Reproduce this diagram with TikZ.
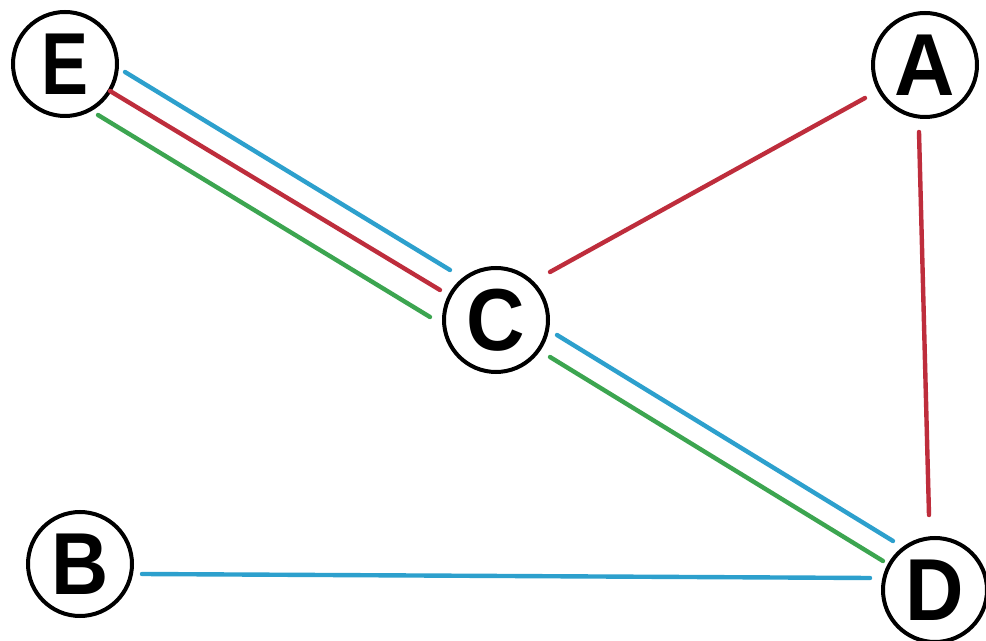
\documentclass[tikz,border=0pt]{standalone}
\usepackage{fontspec}
\usepackage{graphicx}
\setmainfont{Liberation Sans}
\definecolor{eblue}{RGB}{45,160,205}
\definecolor{ered}{RGB}{190,45,60}
\definecolor{egreen}{RGB}{60,165,80}
\begin{document}
\begin{tikzpicture}[x=0.75pt,y=-0.75pt,
  vertex/.style={circle,draw=black,line width=3pt,minimum size=78pt,inner sep=0pt,fill=white,
    font=\fontsize{66}{66}\selectfont\bfseries},
  edge/.style={line width=3.3pt,line cap=round}]
\useasboundingbox (0,0) rectangle (986,641);
\fill[white] (0,0) rectangle (986,641);
\node[vertex] (E) at (65,64) {\scalebox{0.8}[1]{E}};
\node[vertex] (A) at (925,65) {\scalebox{0.95}[1]{A}};
\node[vertex] (C) at (496,320) {\scalebox{0.92}[1]{C}};
\node[vertex] (B) at (80,564) {\scalebox{0.9}[1]{B}};
\node[vertex] (D) at (935,590) {\scalebox{0.92}[1]{D}};
% E--C
\draw[edge,eblue] ([shift={(60,8)}]E.center) -- ([shift={(-46,-50)}]C.center);
\draw[edge,ered] ([shift={(45,27)}]E.center) -- ([shift={(-56,-30)}]C.center);
\draw[edge,egreen] ([shift={(33,51)}]E.center) -- ([shift={(-66,-3)}]C.center);
% C--A
\draw[edge,ered] ([shift={(54,-48)}]C.center) -- ([shift={(-60,33)}]A.center);
% A--D
\draw[edge,ered] ([shift={(-6,67)}]A.center) -- ([shift={(-6,-75)}]D.center);
% C--D
\draw[edge,eblue] ([shift={(61,15)}]C.center) -- ([shift={(-42,-49)}]D.center);
\draw[edge,egreen] ([shift={(54,37)}]C.center) -- ([shift={(-52,-29)}]D.center);
% B--D
\draw[edge,eblue] ([shift={(62,10)}]B.center) -- ([shift={(-65,-12)}]D.center);
\end{tikzpicture}
\end{document}
